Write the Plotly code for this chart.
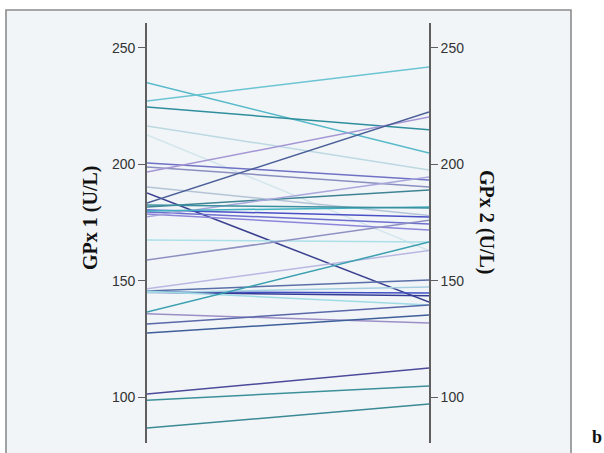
import plotly.graph_objects as go

# GPx activity per subject at the two time points (U/L)
gpx1 = [235.0, 227.2, 224.6, 216.5, 212.6, 200.6, 198.9, 196.7, 190.3, 187.7,
        183.4, 181.7, 180.4, 179.5, 178.7, 177.5, 180.0, 182.5, 167.5, 158.9,
        145.6, 145.3, 145.0, 144.8, 145.5, 146.5, 136.6, 135.8, 131.4, 127.5,
        101.3, 98.7, 86.7]
gpx2 = [204.9, 241.8, 214.8, 197.6, 163.0, 193.3, 190.3, 220.3, 178.0, 140.8,
        222.5, 189.0, 177.4, 174.4, 171.8, 194.6, 181.7, 181.2, 166.6, 176.0,
        150.3, 144.7, 143.5, 147.3, 139.6, 163.0, 166.6, 131.8, 139.6, 135.3,
        112.5, 104.8, 97.0]
line_colors = ["#56b9c9", "#6cc4d2", "#2f8e9c", "#bcd8e2", "#d3e6ec", "#6f72c4",
               "#8a8fc0", "#a496d4", "#b4c4d6", "#3b4190", "#4b5f98", "#3f8494",
               "#4a50c6", "#6e70d0", "#8c86da", "#a9a6dc", "#3fb0c0", "#3a8f9f",
               "#acdfe8", "#8e90c2", "#5a6fa8", "#3f4fc2", "#353c96", "#a6cfe0",
               "#9fdbe4", "#b8b8e2", "#3aa0b0", "#9c8fc6", "#5a68aa", "#3f5f9a",
               "#4d4a9c", "#3c9099", "#3a8a94"]
tick_vals = [100, 150, 200, 250]
y_range = [80.3, 260.7]

W, H = 604, 453
ML, MR, MT, MB = 147, 175, 23, 10
PW, PH = W - ML - MR, H - MT - MB


def px(x):
    return (x - ML) / PW


def py(y):
    return (H - MB - y) / PH


fig = go.Figure()
for a, b, c in zip(gpx1, gpx2, line_colors):
    fig.add_trace(go.Scatter(x=[0, 1], y=[a, b], mode="lines",
                             line=dict(color=c, width=1.5),
                             showlegend=False, hoverinfo="skip"))
# invisible trace to activate the right-hand axis
fig.add_trace(go.Scatter(x=[1], y=[gpx2[0]], yaxis="y2", mode="markers",
                         marker=dict(opacity=0), showlegend=False,
                         hoverinfo="skip"))

axis_common = dict(range=y_range, tickvals=tick_vals, showgrid=False,
                   zeroline=False, showline=True, linecolor="#5f5f5f",
                   linewidth=1.6, ticks="outside", ticklen=7, tickwidth=1.3,
                   tickcolor="#5f5f5f",
                   tickfont=dict(family="Arial, Liberation Sans", size=14,
                                 color="#333333"))

title_font = dict(family="Liberation Serif, Times New Roman", size=20,
                  color="#111111")

fig.update_layout(
    width=W, height=H,
    margin=dict(l=ML, r=MR, t=MT, b=MB),
    paper_bgcolor="white",
    plot_bgcolor="rgba(0,0,0,0)",
    xaxis=dict(range=[0, 1], visible=False, fixedrange=True),
    yaxis=dict(side="left", **axis_common),
    yaxis2=dict(side="right", overlaying="y", **axis_common),
    shapes=[dict(type="rect", xref="paper", yref="paper",
                 x0=px(6), x1=px(571), y0=py(460), y1=py(10),
                 fillcolor="#f1f5f8", line=dict(color="#8c8c8c", width=1.6),
                 layer="below")],
    annotations=[
        dict(text="<b>GPx 1 (U/L)</b>", xref="paper", yref="paper",
             x=px(90), y=py(218), xanchor="center", yanchor="middle",
             textangle=-90, showarrow=False, font=title_font),
        dict(text="<b>GPx 2 (U/L)</b>", xref="paper", yref="paper",
             x=px(487), y=py(222), xanchor="center", yanchor="middle",
             textangle=90, showarrow=False, font=title_font),
        dict(text="<b>b</b>", xref="paper", yref="paper",
             x=px(597), y=py(437), xanchor="center", yanchor="middle",
             showarrow=False, font=dict(title_font, size=18)),
    ],
)

fig.write_html("out.html")
